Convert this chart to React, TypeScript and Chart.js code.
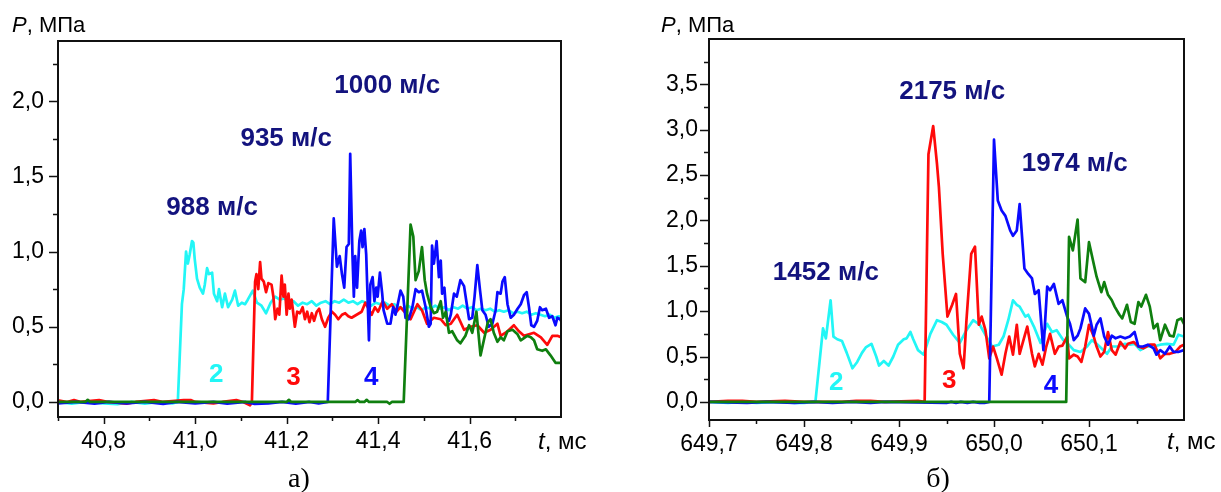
import React, { useEffect, useRef } from "react";
import { Chart, registerables } from "chart.js";

Chart.register(...registerables);

type Pt = [number, number];

// ---------- panel а) : t, ms  /  P, MPa ----------
const leftXTicks = [40.8, 41.0, 41.2, 41.4, 41.6];
const leftYTicks = [0, 0.5, 1.0, 1.5, 2.0];

const leftCyan: Pt[] = [
  [40.70, 0.0], [40.73, -0.012], [40.76, 0.0], [40.80, -0.01], [40.83, -0.014], [40.86, 0.0],
  [40.89, -0.012], [40.92, 0.0], [40.95, -0.01], [40.962, 0.0],
  [40.971, 0.65], [40.975, 0.75], [40.980, 1.0], [40.984, 0.92], [40.988, 0.98], [40.993, 1.07],
  [40.996, 1.06], [40.999, 0.95], [41.004, 0.82], [41.010, 0.76], [41.017, 0.72], [41.021, 0.78],
  [41.026, 0.89], [41.030, 0.85], [41.037, 0.86], [41.041, 0.72], [41.048, 0.67], [41.052, 0.75],
  [41.059, 0.63], [41.065, 0.72], [41.072, 0.63], [41.081, 0.68], [41.087, 0.74], [41.094, 0.64],
  [41.102, 0.66], [41.109, 0.65], [41.115, 0.68], [41.126, 0.74], [41.135, 0.66], [41.145, 0.64],
  [41.155, 0.59], [41.165, 0.66], [41.175, 0.70], [41.185, 0.68], [41.195, 0.69], [41.205, 0.66],
  [41.215, 0.67], [41.225, 0.64], [41.235, 0.66], [41.245, 0.65], [41.255, 0.67], [41.265, 0.64],
  [41.275, 0.66], [41.285, 0.67], [41.295, 0.65], [41.305, 0.67], [41.315, 0.66], [41.325, 0.68],
  [41.335, 0.66], [41.345, 0.67], [41.355, 0.65], [41.365, 0.67], [41.375, 0.66], [41.385, 0.64],
  [41.395, 0.66], [41.405, 0.65], [41.415, 0.66], [41.425, 0.64], [41.435, 0.65], [41.445, 0.63],
  [41.455, 0.62], [41.465, 0.64], [41.475, 0.62], [41.485, 0.63], [41.495, 0.61], [41.505, 0.63],
  [41.515, 0.62], [41.525, 0.64], [41.535, 0.62], [41.545, 0.63], [41.555, 0.61], [41.565, 0.63],
  [41.575, 0.62], [41.585, 0.64], [41.595, 0.62], [41.605, 0.63], [41.615, 0.61], [41.625, 0.62],
  [41.635, 0.61], [41.645, 0.62], [41.655, 0.60], [41.665, 0.61], [41.675, 0.60], [41.685, 0.61],
  [41.695, 0.59], [41.705, 0.60], [41.715, 0.59], [41.725, 0.60], [41.735, 0.58], [41.745, 0.59],
  [41.755, 0.58], [41.765, 0.57], [41.775, 0.58], [41.785, 0.56], [41.795, 0.57], [41.80, 0.56],
];

const leftRed: Pt[] = [
  [40.70, 0.01], [40.72, 0.0], [40.735, 0.012], [40.75, 0.0], [40.79, 0.012], [40.81, 0.0],
  [40.85, -0.012], [40.87, 0.0], [40.91, 0.012], [40.93, 0.0], [40.975, 0.013], [40.99, 0.013],
  [41.0, 0.0], [41.04, -0.01], [41.06, 0.0], [41.09, 0.012], [41.105, 0.0], [41.12, -0.022],
  [41.124, 0.0], [41.131, 0.80], [41.134, 0.85], [41.138, 0.75], [41.142, 0.93], [41.145, 0.82],
  [41.150, 0.80], [41.155, 0.73], [41.160, 0.79], [41.167, 0.78], [41.171, 0.70], [41.175, 0.55],
  [41.180, 0.62], [41.184, 0.58], [41.189, 0.84], [41.193, 0.70], [41.196, 0.78], [41.200, 0.58],
  [41.204, 0.72], [41.207, 0.62], [41.211, 0.68], [41.218, 0.50], [41.223, 0.60], [41.229, 0.59],
  [41.235, 0.63], [41.240, 0.55], [41.245, 0.60], [41.250, 0.53], [41.255, 0.59], [41.260, 0.54],
  [41.266, 0.60], [41.271, 0.62], [41.277, 0.55], [41.284, 0.50], [41.291, 0.56], [41.299, 0.60],
  [41.306, 0.58], [41.313, 0.55], [41.321, 0.58], [41.328, 0.59], [41.335, 0.57], [41.342, 0.56],
  [41.353, 0.58], [41.364, 0.60], [41.372, 0.66], [41.379, 0.62], [41.386, 0.58], [41.393, 0.63],
  [41.400, 0.60], [41.410, 0.67], [41.420, 0.62], [41.430, 0.65], [41.440, 0.60], [41.449, 0.63],
  [41.460, 0.59], [41.471, 0.55], [41.486, 0.65], [41.496, 0.61], [41.507, 0.52], [41.522, 0.56],
  [41.537, 0.55], [41.548, 0.51], [41.559, 0.52], [41.573, 0.58], [41.588, 0.48], [41.602, 0.50],
  [41.617, 0.51], [41.632, 0.46], [41.646, 0.48], [41.661, 0.52], [41.668, 0.44], [41.683, 0.47],
  [41.697, 0.51], [41.708, 0.47], [41.719, 0.44], [41.730, 0.45], [41.741, 0.46], [41.756, 0.43],
  [41.770, 0.38], [41.781, 0.44], [41.792, 0.44], [41.80, 0.43],
];

const leftBlue: Pt[] = [
  [40.70, -0.01], [40.74, 0.0], [40.78, -0.012], [40.81, 0.0], [40.85, -0.01], [40.89, 0.0],
  [40.93, -0.013], [40.96, 0.0], [41.0, -0.01], [41.04, 0.0], [41.07, -0.012], [41.11, 0.0],
  [41.13, -0.013], [41.16, -0.01], [41.19, 0.0], [41.22, -0.012], [41.25, 0.0], [41.27, -0.01],
  [41.29, 0.0], [41.303, 1.22], [41.310, 0.90], [41.316, 0.97], [41.321, 0.85], [41.326, 0.76],
  [41.331, 1.03], [41.336, 1.05], [41.339, 1.65], [41.344, 0.97], [41.347, 0.70], [41.350, 0.97],
  [41.354, 0.76], [41.359, 1.07], [41.363, 1.14], [41.366, 1.03], [41.370, 1.15], [41.374, 0.98],
  [41.380, 0.41], [41.383, 0.78], [41.388, 0.83], [41.392, 0.67], [41.396, 0.76], [41.399, 0.70],
  [41.404, 0.86], [41.409, 0.72], [41.412, 0.61], [41.420, 0.52], [41.427, 0.52], [41.433, 0.63],
  [41.438, 0.58], [41.443, 0.65], [41.449, 0.74], [41.455, 0.70], [41.460, 0.56], [41.467, 0.55],
  [41.475, 0.63], [41.482, 0.75], [41.489, 0.73], [41.496, 0.74], [41.504, 0.63], [41.511, 0.50],
  [41.515, 0.52], [41.518, 1.04], [41.522, 0.92], [41.528, 1.07], [41.533, 0.83], [41.537, 0.94],
  [41.540, 0.72], [41.545, 0.76], [41.550, 0.56], [41.555, 0.54], [41.559, 0.58], [41.566, 0.72],
  [41.572, 0.70], [41.580, 0.81], [41.588, 0.77], [41.594, 0.65], [41.599, 0.55], [41.606, 0.56],
  [41.611, 0.70], [41.617, 0.91], [41.623, 0.74], [41.628, 0.61], [41.635, 0.58], [41.642, 0.50],
  [41.650, 0.52], [41.657, 0.61], [41.661, 0.73], [41.668, 0.72], [41.672, 0.80], [41.677, 0.83],
  [41.683, 0.65], [41.690, 0.56], [41.697, 0.58], [41.705, 0.62], [41.712, 0.65], [41.719, 0.71],
  [41.725, 0.73], [41.730, 0.63], [41.735, 0.51], [41.741, 0.50], [41.748, 0.54], [41.754, 0.63],
  [41.759, 0.61], [41.767, 0.62], [41.774, 0.56], [41.781, 0.57], [41.788, 0.51], [41.792, 0.56],
  [41.798, 0.55], [41.80, 0.54],
];

const leftGreen: Pt[] = [
  [40.70, 0.0], [40.76, 0.0], [40.765, 0.014], [40.77, 0.0], [41.20, 0.0], [41.205, 0.014],
  [41.21, 0.0], [41.35, 0.0], [41.355, 0.012], [41.36, 0.0], [41.37, 0.0], [41.375, 0.014],
  [41.38, 0.0], [41.42, 0.0], [41.425, -0.012], [41.43, 0.0], [41.456, 0.0],
  [41.471, 1.18], [41.477, 1.10], [41.482, 0.81], [41.489, 0.87], [41.496, 1.03], [41.502, 0.81],
  [41.507, 0.72], [41.515, 0.63], [41.522, 0.59], [41.529, 0.60], [41.537, 0.67], [41.542, 0.56],
  [41.548, 0.60], [41.555, 0.46], [41.562, 0.47], [41.573, 0.41], [41.580, 0.39], [41.591, 0.44],
  [41.599, 0.51], [41.606, 0.46], [41.615, 0.60], [41.624, 0.31], [41.632, 0.42], [41.640, 0.53],
  [41.646, 0.55], [41.653, 0.46], [41.661, 0.40], [41.668, 0.43], [41.675, 0.41], [41.683, 0.47],
  [41.694, 0.48], [41.705, 0.45], [41.712, 0.41], [41.726, 0.44], [41.734, 0.43], [41.741, 0.41],
  [41.748, 0.35], [41.759, 0.34], [41.767, 0.35], [41.777, 0.31], [41.788, 0.26], [41.80, 0.26],
];

// ---------- panel б) ----------
const rightXTicks = [649.7, 649.8, 649.9, 650.0, 650.1];
const rightYTicks = [0, 0.5, 1.0, 1.5, 2.0, 2.5, 3.0, 3.5];

const rightCyan: Pt[] = [
  [649.70, 0.0], [649.72, -0.012], [649.735, 0.0], [649.75, -0.012], [649.77, 0.0],
  [649.79, -0.012], [649.80, -0.012], [649.812, 0.0], [649.820, 0.81], [649.823, 0.70],
  [649.828, 1.12], [649.831, 0.72], [649.835, 0.69], [649.840, 0.67], [649.845, 0.54],
  [649.851, 0.37], [649.856, 0.44], [649.861, 0.54], [649.865, 0.60], [649.871, 0.64],
  [649.876, 0.50], [649.879, 0.40], [649.884, 0.45], [649.889, 0.40], [649.894, 0.50],
  [649.899, 0.63], [649.905, 0.69], [649.908, 0.70], [649.912, 0.77], [649.915, 0.69],
  [649.920, 0.57], [649.926, 0.52], [649.933, 0.75], [649.940, 0.90], [649.945, 0.88],
  [649.950, 0.85], [649.957, 0.74], [649.964, 0.65], [649.971, 0.79], [649.978, 0.90],
  [649.985, 0.85], [649.992, 0.72], [649.998, 0.61], [650.005, 0.63], [650.010, 0.72],
  [650.015, 0.90], [650.020, 1.12], [650.024, 1.07], [650.027, 1.05], [650.033, 0.94],
  [650.036, 0.96], [650.042, 0.83], [650.049, 0.65], [650.056, 0.86], [650.061, 0.77],
  [650.066, 0.79], [650.073, 0.68], [650.077, 0.65], [650.084, 0.57], [650.091, 0.55],
  [650.098, 0.61], [650.103, 0.68], [650.108, 0.64], [650.113, 0.59], [650.119, 0.53],
  [650.124, 0.61], [650.131, 0.61], [650.138, 0.64], [650.143, 0.63], [650.148, 0.64],
  [650.154, 0.57], [650.161, 0.61], [650.168, 0.61], [650.175, 0.63], [650.182, 0.64],
  [650.189, 0.63], [650.194, 0.74], [650.200, 0.72],
];

const rightRed: Pt[] = [
  [649.70, 0.0], [649.72, 0.012], [649.735, 0.012], [649.75, 0.0], [649.78, 0.012], [649.80, 0.0],
  [649.84, 0.0], [649.855, 0.012], [649.87, 0.012], [649.885, 0.0], [649.92, 0.012], [649.927, 0.0],
  [649.931, 2.73], [649.936, 3.04], [649.940, 2.62], [649.942, 2.37], [649.946, 1.63], [649.951, 0.94],
  [649.956, 1.07], [649.960, 1.19], [649.964, 0.53], [649.968, 0.37], [649.971, 0.90], [649.976, 1.63],
  [649.980, 1.71], [649.984, 0.85], [649.987, 0.94], [649.991, 0.79], [649.995, 0.48], [649.999, 0.61],
  [650.003, 0.48], [650.008, 0.30], [650.012, 0.53], [650.016, 0.72], [650.020, 0.52], [650.024, 0.85],
  [650.027, 0.53], [650.031, 0.68], [650.035, 0.83], [650.040, 0.53], [650.043, 0.39], [650.047, 0.53],
  [650.051, 0.41], [650.055, 0.61], [650.059, 0.75], [650.064, 0.53], [650.068, 0.61], [650.072, 0.62],
  [650.077, 0.72], [650.079, 0.48], [650.084, 0.52], [650.088, 0.50], [650.092, 0.44], [650.096, 0.61],
  [650.100, 0.85], [650.105, 0.72], [650.108, 0.61], [650.112, 0.50], [650.116, 0.55], [650.120, 0.77],
  [650.124, 0.57], [650.128, 0.52], [650.133, 0.66], [650.138, 0.59], [650.141, 0.64], [650.147, 0.66],
  [650.152, 0.61], [650.157, 0.59], [650.164, 0.63], [650.169, 0.63], [650.175, 0.48], [650.180, 0.53],
  [650.185, 0.53], [650.191, 0.55], [650.196, 0.61], [650.200, 0.63],
];

const rightBlue: Pt[] = [
  [649.70, 0.0], [649.74, -0.012], [649.76, 0.0], [649.79, -0.012], [649.81, 0.0], [649.83, -0.012],
  [649.85, 0.0], [649.87, -0.012], [649.885, 0.0], [649.95, -0.012], [649.955, 0.0], [649.96, -0.012],
  [649.965, 0.0], [649.972, -0.012], [649.978, 0.0], [649.985, -0.012], [649.99, -0.012],
  [649.995, 0.0], [650.000, 2.89], [650.004, 2.22], [650.008, 2.11], [650.012, 2.05], [650.017, 1.89],
  [650.020, 1.83], [650.024, 1.89], [650.027, 2.18], [650.032, 1.47], [650.036, 1.41], [650.040, 1.36],
  [650.043, 1.19], [650.047, 1.23], [650.052, 0.57], [650.056, 1.27], [650.059, 1.23], [650.063, 1.30],
  [650.068, 1.08], [650.072, 1.12], [650.077, 0.94], [650.080, 0.86], [650.084, 0.68], [650.088, 0.73],
  [650.091, 0.81], [650.096, 1.03], [650.100, 0.97], [650.105, 0.73], [650.108, 0.85], [650.112, 0.92],
  [650.116, 0.72], [650.120, 0.63], [650.124, 0.73], [650.128, 0.70], [650.133, 0.72], [650.138, 0.70],
  [650.143, 0.72], [650.148, 0.77], [650.152, 0.61], [650.157, 0.61], [650.162, 0.63], [650.168, 0.59],
  [650.171, 0.52], [650.175, 0.57], [650.180, 0.53], [650.185, 0.61], [650.189, 0.55], [650.194, 0.55],
  [650.200, 0.57],
];

const rightGreen: Pt[] = [
  [649.70, 0.0], [650.076, 0.0], [650.079, 1.82], [650.083, 1.67], [650.088, 2.01], [650.091, 1.36],
  [650.096, 1.32], [650.100, 1.76], [650.105, 1.52], [650.108, 1.38], [650.113, 1.21], [650.116, 1.32],
  [650.120, 1.18], [650.124, 1.12], [650.127, 1.05], [650.132, 0.96], [650.135, 0.92], [650.140, 1.07],
  [650.144, 0.88], [650.148, 0.86], [650.152, 1.10], [650.155, 1.05], [650.160, 1.18], [650.164, 1.05],
  [650.168, 0.81], [650.172, 0.86], [650.175, 0.68], [650.180, 0.85], [650.185, 0.73], [650.189, 0.72],
  [650.193, 0.90], [650.197, 0.92], [650.200, 0.86],
];

// ---------- annotations (text + data position) ----------
const leftNotes = [
  { text: "988 м/с", t: 41.037, p: 1.29, series: "speed" },
  { text: "935 м/с", t: 41.199, p: 1.75, series: "speed" },
  { text: "1000 м/с", t: 41.42, p: 2.1, series: "speed" },
  { text: "2", t: 41.046, p: 0.18, series: "cyan" },
  { text: "3", t: 41.215, p: 0.16, series: "red" },
  { text: "4", t: 41.385, p: 0.16, series: "blue" },
];

const rightNotes = [
  { text: "2175 м/с", t: 649.956, p: 3.42, series: "speed" },
  { text: "1974 м/с", t: 650.085, p: 2.62, series: "speed" },
  { text: "1452 м/с", t: 649.823, p: 1.42, series: "speed" },
  { text: "2", t: 649.834, p: 0.21, series: "cyan" },
  { text: "3", t: 649.953, p: 0.23, series: "red" },
  { text: "4", t: 650.06, p: 0.18, series: "blue" },
];

// ---------- styles ----------
const SANS = "'Liberation Sans', Arial, Helvetica, sans-serif";
const SERIF = "'Liberation Serif', 'Times New Roman', serif";
const INK = "#111111";
const COLORS: Record<string, string> = {
  cyan: "#22f6f6",
  red: "#ff0a0a",
  blue: "#0a0aff",
  green: "#0f7f0f",
  speed: "#13137e",
};

interface Panel {
  width: number;
  xMin: number; xMax: number; xMajor: number; xMinor: number; xTicks: number[];
  yMin: number; yMax: number; yMajor: number; yMinor: number; yTicks: number[];
  cyan: Pt[]; red: Pt[]; blue: Pt[]; green: Pt[];
  notes: { text: string; t: number; p: number; series: string }[];
  padL: number; padR: number; padT: number; padB: number;
  yAxisW: number; xAxisH: number; yLabelPad: number; xLabelPad: number;
  pX: number; tX: number; letter: string; letterX: number;
}

const panels: Panel[] = [
  {
    width: 610,
    xMin: 40.7, xMax: 41.8, xMajor: 0.2, xMinor: 0.1, xTicks: leftXTicks,
    yMin: -0.1, yMax: 2.4, yMajor: 0.5, yMinor: 0.25, yTicks: leftYTicks,
    cyan: leftCyan, red: leftRed, blue: leftBlue, green: leftGreen,
    notes: leftNotes,
    padL: 0, padR: 49, padT: 41, padB: 35, yAxisW: 58, xAxisH: 40, yLabelPad: 14, xLabelPad: 11,
    pX: 12, tX: 538, letter: "а)", letterX: 299,
  },
  {
    width: 611,
    xMin: 649.7, xMax: 650.2, xMajor: 0.1, xMinor: 0.05, xTicks: rightXTicks,
    yMin: -0.2, yMax: 4.0, yMajor: 0.5, yMinor: 0.25, yTicks: rightYTicks,
    cyan: rightCyan, red: rightRed, blue: rightBlue, green: rightGreen,
    notes: rightNotes,
    padL: 0, padR: 37, padT: 39, padB: 32, yAxisW: 99, xAxisH: 40, yLabelPad: 11, xLabelPad: 11,
    pX: 51, tX: 557, letter: "б)", letterX: 328,
  },
];

const fmt = (v: number) => Number(v).toFixed(1).replace(".", ",");
const isMultiple = (v: number, step: number) => Math.abs(v / step - Math.round(v / step)) < 1e-4;

function buildChart(canvas: HTMLCanvasElement, P: Panel) {
  const decor = {
    id: "decor",
    afterDatasetsDraw(chart: any) {
      const { ctx, chartArea: a } = chart;
      const xs = chart.scales.x;
      const ys = chart.scales.y;
      ctx.save();
      // annotations
      ctx.textAlign = "center";
      ctx.textBaseline = "middle";
      ctx.font = `bold 26px ${SANS}`;
      for (const n of P.notes) {
        ctx.fillStyle = COLORS[n.series];
        ctx.fillText(n.text, xs.getPixelForValue(n.t), ys.getPixelForValue(n.p));
      }
      // frame
      ctx.strokeStyle = INK;
      ctx.lineWidth = 2;
      ctx.strokeRect(a.left, a.top, a.right - a.left, a.bottom - a.top);
      // tick marks
      ctx.beginPath();
      ctx.lineWidth = 1.5;
      const ny = Math.floor((P.yMax - 0) / P.yMinor + 1e-6);
      for (let i = 0; i <= ny; i++) {
        const v = i * P.yMinor;
        if (v >= P.yMax - 1e-6) continue;
        const py = Math.round(ys.getPixelForValue(v)) + 0.5;
        const len = isMultiple(v, P.yMajor) ? 9 : 5;
        ctx.moveTo(a.left, py);
        ctx.lineTo(a.left - len, py);
      }
      const nx = Math.floor((P.xMax - P.xMin) / P.xMinor + 1e-6);
      for (let i = 0; i <= nx; i++) {
        const v = P.xMin + i * P.xMinor;
        if (v >= P.xMax - 1e-6) continue;
        const px = Math.round(xs.getPixelForValue(v)) + 0.5;
        const len = isMultiple(v, P.xMajor) ? 7 : 4;
        ctx.moveTo(px, a.bottom);
        ctx.lineTo(px, a.bottom + len);
      }
      ctx.stroke();
      ctx.restore();
    },
    afterDraw(chart: any) {
      const { ctx } = chart;
      ctx.save();
      ctx.fillStyle = "#000";
      ctx.textAlign = "left";
      ctx.textBaseline = "alphabetic";
      // P, МПа
      ctx.font = `italic 22px ${SANS}`;
      ctx.fillText("P", P.pX, 32);
      let w = ctx.measureText("P").width;
      ctx.font = `22px ${SANS}`;
      ctx.fillText(", МПа", P.pX + w, 32);
      // t, мс
      ctx.font = `italic 24px ${SANS}`;
      ctx.fillText("t", P.tX, 449);
      w = ctx.measureText("t").width;
      ctx.font = `24px ${SANS}`;
      ctx.fillText(", мс", P.tX + w, 449);
      // panel letter
      ctx.textAlign = "center";
      ctx.font = `28px ${SERIF}`;
      ctx.fillText(P.letter, P.letterX, 487);
      ctx.restore();
    },
  };

  const mk = (data: Pt[], color: string, order: number) => ({
    data: data.map(([x, y]) => ({ x, y })),
    borderColor: color,
    backgroundColor: color,
    borderWidth: 2.7,
    pointRadius: 0,
    pointHoverRadius: 0,
    tension: 0,
    fill: false,
    order,
    borderJoinStyle: "round" as const,
    borderCapStyle: "round" as const,
  });

  const tickFont = { family: SANS, size: 23 };

  return new Chart(canvas, {
    type: "line",
    data: {
      datasets: [
        mk(P.cyan, COLORS.cyan, 3),
        mk(P.red, COLORS.red, 2),
        mk(P.blue, COLORS.blue, 1),
        mk(P.green, COLORS.green, 0),
      ],
    },
    options: {
      animation: false,
      responsive: false,
      maintainAspectRatio: false,
      devicePixelRatio: 1,
      events: [],
      layout: { padding: { left: P.padL, right: P.padR, top: P.padT, bottom: P.padB } },
      plugins: { legend: { display: false }, tooltip: { enabled: false }, title: { display: false } },
      scales: {
        x: {
          type: "linear",
          min: P.xMin,
          max: P.xMax,
          grid: { display: false, drawTicks: false },
          border: { display: false },
          afterBuildTicks: (s: any) => {
            s.ticks = P.xTicks.map((v) => ({ value: v }));
          },
          afterFit: (s: any) => {
            s.height = P.xAxisH;
          },
          ticks: {
            autoSkip: false,
            maxRotation: 0,
            minRotation: 0,
            padding: P.xLabelPad,
            color: "#000",
            font: tickFont,
            callback: (v: any) => fmt(Number(v)),
          },
        },
        y: {
          type: "linear",
          min: P.yMin,
          max: P.yMax,
          grid: { display: false, drawTicks: false },
          border: { display: false },
          afterBuildTicks: (s: any) => {
            s.ticks = P.yTicks.map((v) => ({ value: v }));
          },
          afterFit: (s: any) => {
            s.width = P.yAxisW;
          },
          ticks: {
            autoSkip: false,
            padding: P.yLabelPad,
            color: "#000",
            font: tickFont,
            callback: (v: any) => fmt(Number(v)),
          },
        },
      },
    },
    plugins: [decor],
  } as any);
}

function PanelChart({ panel, left }: { panel: Panel; left: number }) {
  const ref = useRef<HTMLCanvasElement | null>(null);
  useEffect(() => {
    if (!ref.current) return;
    const chart = buildChart(ref.current, panel);
    return () => chart.destroy();
  }, [panel]);
  return (
    <canvas
      ref={ref}
      width={panel.width}
      height={492}
      style={{ position: "absolute", left, top: 0, width: panel.width, height: 492, display: "block" }}
    />
  );
}

export default function App() {
  return (
    <div style={{ position: "absolute", left: 0, top: 0, width: 1221, height: 492, background: "#fff", overflow: "hidden" }}>
      <PanelChart panel={panels[0]} left={0} />
      <PanelChart panel={panels[1]} left={610} />
    </div>
  );
}
